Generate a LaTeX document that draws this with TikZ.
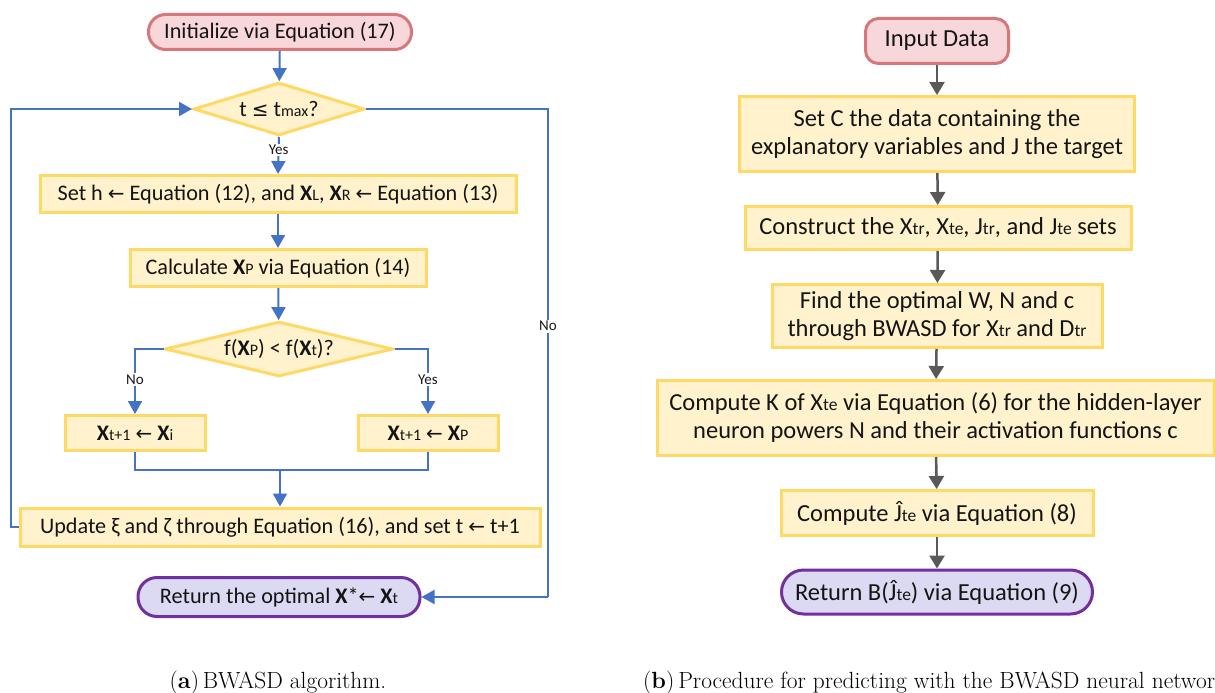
\documentclass[tikz,border=0pt]{standalone}
\usepackage{fontspec}
\setsansfont{Carlito}
\newfontfamily\symf{DejaVu Sans}[Scale=0.9]
\usetikzlibrary{shapes.geometric,arrows.meta}
\definecolor{lineblue}{HTML}{4472C4}
\definecolor{boxborder}{HTML}{FFD966}
\definecolor{boxfill}{HTML}{FFF2CC}
\definecolor{pinkfill}{HTML}{F7D7DA}
\definecolor{pinkborder}{HTML}{D7777C}
\definecolor{lavfill}{HTML}{DCD9F2}
\definecolor{purpborder}{HTML}{7030A0}
\definecolor{linegray}{HTML}{595959}
\newcommand\smt[1]{{\fontsize{16}{16}\selectfont #1}}
\newcommand\smr[1]{{\fontsize{17.5}{17.5}\selectfont #1}}
\newcommand\la{{\symf ←}}
\newcommand\bX{\textbf{X}}
\tikzset{
  txt/.style={font=\sffamily\fontsize{22.2}{28}\selectfont, text=black!92},
  txtr/.style={font=\sffamily\fontsize{24.5}{28}\selectfont, text=black!92},
  proc/.style={draw=boxborder, fill=boxfill, line width=3pt, inner sep=0pt, align=center},
  dec/.style={diamond, draw=boxborder, fill=boxfill, line width=3pt, inner sep=0pt},
  pinkterm/.style={draw=pinkborder, fill=pinkfill, line width=3pt, inner sep=0pt},
  purpterm/.style={draw=purpborder, fill=lavfill, line width=3pt, inner sep=0pt},
  bl/.style={draw=lineblue, line width=2pt},
  blarrow/.style={bl, -{Triangle[width=14pt,length=13pt]}},
  grarrow/.style={draw=linegray, line width=2.5pt, -{Triangle[width=15pt,length=13pt]}},
  lab/.style={fill=white, inner sep=1.5pt, font=\sffamily\fontsize{15}{15}\selectfont, text=black!90},
  capt/.style={font=\rmfamily\fontsize{23.4}{24}\selectfont, inner sep=0pt}
}
\begin{document}
\begin{tikzpicture}[x=1pt,y=-1pt]
\useasboundingbox[fill=white] (0,0) rectangle (1215,693);
% ---------- left panel ----------
\node[pinkterm, txt, minimum width=263pt, minimum height=35pt, rounded corners=17pt] (init) at (280,32) {Initialize via Equation (17)};
\node[dec, txt, minimum width=171pt, minimum height=53pt, aspect=3.2] (d1) at (279,109) {t {\symf ≤} t\smt{max}?};
\node[proc, txt, minimum width=476pt, minimum height=37pt] (b2) at (278,194) {Set h \la{} Equation (12), and \bX\smt{L}, \bX\smt{R} \la{} Equation (13)};
\node[proc, txt, minimum width=296pt, minimum height=37pt] (b3) at (278,268) {Calculate \bX\smt{P} via Equation (14)};
\node[dec, txt, minimum width=228pt, minimum height=55pt, aspect=4.1] (d2) at (279,349) {f(\bX\smt{P}) < f(\bX\smt{t})?};
\node[proc, txt, minimum width=140pt, minimum height=35pt] (b4) at (135,433) {\bX\smt{t+1} \la{} \bX\smt{i}};
\node[proc, txt, minimum width=140pt, minimum height=35pt] (b5) at (428,433) {\bX\smt{t+1} \la{} \bX\smt{P}};
\node[proc, txt, minimum width=520pt, minimum height=38pt] (b6) at (280,527) {Update ξ and ζ through Equation (16), and set t \la{} t+1};
\node[purpterm, txt, minimum width=282pt, minimum height=39pt, rounded corners=19pt] (ret) at (279,597) {Return the optimal \bX*\la{} \bX\smt{t}};
\coordinate (m) at (280,470);
\coordinate (lp1) at (11,527);
\coordinate (lp2) at (11,109);
\coordinate (rc1) at (548,109);
\coordinate (rc2) at (548,597);
\draw[blarrow] (init) -- (d1);
\draw[blarrow] (d1.south) -- node[lab, pos=0.35]{Yes} (b2.north);
\draw[blarrow] (b2) -- (b3);
\draw[blarrow] (b3) -- (d2);
\draw[blarrow] (d2.west) -| node[lab, pos=0.735]{No} (b4.north);
\draw[blarrow] (d2.east) -| node[lab, pos=0.735]{Yes} (b5.north);
\draw[bl] (b4.south) |- (m) -| (b5.south);
\draw[blarrow] (m) -- (b6.north);
\draw[blarrow] (b6.west) -- (lp1) -- (lp2) -- (d1.west);
\draw[bl] (d1.east) -- (rc1) -- node[lab, pos=0.445]{No} (rc2);
\draw[blarrow] (rc2) -- (ret.east);
% ---------- right panel ----------
\node[pinkterm, txtr, minimum width=143pt, minimum height=45pt, rounded corners=13pt] (in) at (937,41) {Input Data};
\node[proc, txtr, minimum width=395pt, minimum height=75pt] (r1) at (937,134) {Set C the data containing the\\explanatory variables and J the target};
\node[proc, txtr, minimum width=386pt, minimum height=43pt] (r2) at (938,228) {Construct the X\smr{tr}, X\smr{te}, J\smr{tr}, and J\smr{te} sets};
\node[proc, txtr, minimum width=330pt, minimum height=63pt] (r3) at (937,316) {Find the optimal W, N and c\\through BWASD for X\smr{tr} and D\smr{tr}};
\node[proc, txtr, minimum width=557pt, minimum height=75pt] (r4) at (935.5,418) {Compute K of X\smr{te} via Equation (6) for the hidden-layer\\neuron powers N and their activation functions c};
\node[proc, txtr, minimum width=312pt, minimum height=45pt] (r5) at (937,513) {Compute Ĵ\smr{te} via Equation (8)};
\node[purpterm, txtr, minimum width=311pt, minimum height=44pt, rounded corners=22pt] (r6) at (937,592) {Return B(Ĵ\smr{te}) via Equation (9)};
\draw[grarrow] (in) -- (r1);
\draw[grarrow] (r1) -- (r2);
\draw[grarrow] (r2) -- (r3);
\draw[grarrow] (r3) -- (r4);
\draw[grarrow] (r4) -- (r5);
\draw[grarrow] (r5) -- (r6);
% ---------- captions ----------
\node[capt, anchor=base] (ca) at (278,688) {(\textbf{a})\,BWASD algorithm.};
\node[capt, anchor=base west] (cb) at (643,688) {(\textbf{b})\,Procedure for predicting with the BWASD neural networ};
\end{tikzpicture}
\end{document}
